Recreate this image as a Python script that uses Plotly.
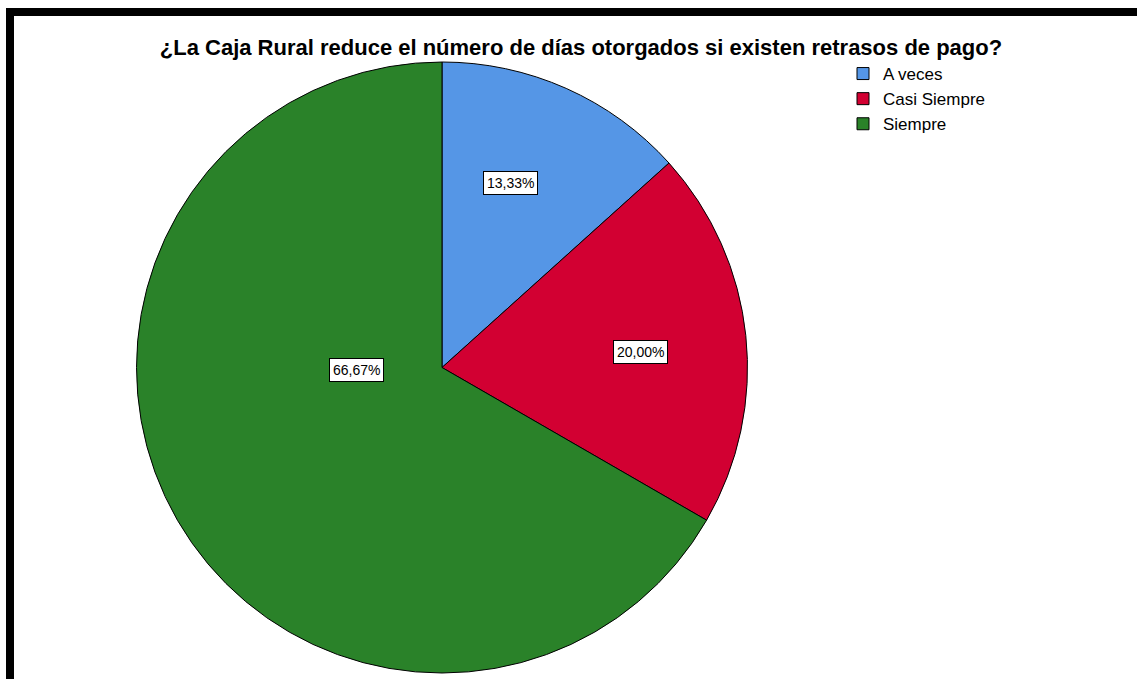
import plotly.graph_objects as go

# Survey answers and their shares
categories = ["A veces", "Casi Siempre", "Siempre"]
percentages = [13.33, 20.00, 66.67]
slice_colors = ["#5596E6", "#D20032", "#2A8229"]
label_texts = [f"{v:.2f}%".replace(".", ",") for v in percentages]

title_text = "¿La Caja Rural reduce el número de días otorgados si existen retrasos de pago?"

W, H = 1137, 679

def px(x):
    return x / W

def py(y):
    return 1 - y / H

fig = go.Figure()
fig.add_trace(go.Pie(
    labels=categories,
    values=percentages,
    marker=dict(colors=slice_colors, line=dict(color="#000000", width=1)),
    sort=False,
    direction="clockwise",
    rotation=0,
    textinfo="none",
    hoverinfo="skip",
    domain=dict(x=[px(136), px(748)], y=[py(673), py(62)]),
))

# Boxed percentage labels inside the slices
label_pos = [(510, 171), (640, 352), (329, 370)]
for (lx, ly), txt in zip(label_pos, label_texts):
    fig.add_annotation(
        x=px(lx), y=py(ly), xref="paper", yref="paper",
        text=txt, showarrow=False,
        font=dict(family="Liberation Sans, Arial", size=14, color="#000000"),
        bgcolor="#FFFFFF", bordercolor="#000000", borderwidth=1, borderpad=3,
    )

# Frame bars along the top and left edges
fig.add_shape(type="rect", xref="paper", yref="paper",
              x0=px(6), x1=1, y0=py(16), y1=py(8),
              fillcolor="#000000", line=dict(width=0), layer="above")
fig.add_shape(type="rect", xref="paper", yref="paper",
              x0=px(6), x1=px(14), y0=0, y1=py(8),
              fillcolor="#000000", line=dict(width=0), layer="above")

fig.update_layout(
    width=W, height=H,
    margin=dict(l=0, r=0, t=0, b=0),
    paper_bgcolor="#FFFFFF",
    plot_bgcolor="#FFFFFF",
    title=dict(
        text=f"<b>{title_text}</b>",
        x=px(581), xanchor="center",
        y=py(47), yanchor="middle",
        font=dict(family="Liberation Sans, Arial", size=22, color="#000000"),
    ),
    legend=dict(
        x=px(843), y=py(56), xanchor="left", yanchor="top",
        font=dict(family="Liberation Sans, Arial", size=17, color="#000000"),
        bgcolor="rgba(0,0,0,0)",
        itemwidth=30,
        tracegroupgap=0,
    ),
    showlegend=True,
)

fig.write_html("out.html")
